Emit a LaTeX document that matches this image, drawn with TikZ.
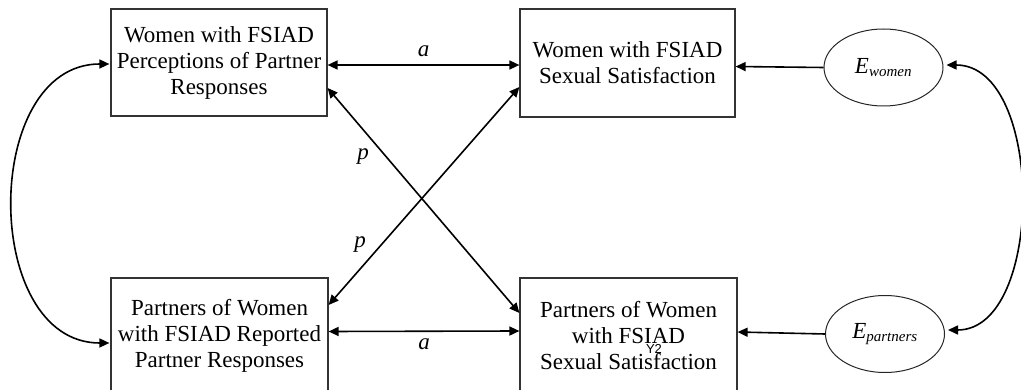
\documentclass[tikz,border=0pt]{standalone}
\usepackage{fontspec}
\setmainfont{Liberation Serif}
\newfontfamily\labelsans{Liberation Sans}
\usetikzlibrary{arrows.meta,shapes.geometric}
\begin{document}
\begin{tikzpicture}[x=1pt,y=-1pt,
  varbox/.style={draw=black!80,line width=1.2pt,rectangle,align=center,
    font=\fontsize{23}{26}\selectfont,inner sep=0pt},
  errnode/.style={draw=black!85,line width=1pt,ellipse,minimum width=119pt,minimum height=77pt,
    inner sep=0pt,font=\fontsize{23}{26}\selectfont\itshape},
  tip/.style={Triangle[length=10pt,width=9pt]},
  biarrow/.style={line width=1.6pt,{Triangle[length=10pt,width=9pt]}-{Triangle[length=10pt,width=9pt]}},
  onearrow/.style={line width=1.6pt,-{Triangle[length=10pt,width=9pt]}},
  pathlabel/.style={font=\fontsize{23}{26}\selectfont\itshape}]
\useasboundingbox (0,0) rectangle (1021,390);
\clip (0,0) rectangle (1021,390);

\node[varbox,minimum width=216pt,minimum height=107pt] (tl) at (219,62.5)
  {Women with FSIAD\\Perceptions of Partner\\Responses};
\node[varbox,minimum width=215pt,minimum height=108pt] (tr) at (627.5,63)
  {Women with FSIAD\\Sexual Satisfaction};
\node[varbox,minimum width=217pt,minimum height=116pt] (bl) at (219.5,336)
  {Partners of Women\\with FSIAD Reported\\Partner Responses};
\node[varbox,minimum width=217pt,minimum height=116pt] (br) at (628.5,336)
  {Partners of Women\\with FSIAD\\Sexual Satisfaction};
\node[font=\labelsans\fontsize{13}{13}\selectfont] (y2) at (654,349) {Y2};

\node[errnode] (ew) at (883.5,67.5) {E\textsubscript{\fontsize{15}{15}\selectfont women}};
\node[errnode] (ep) at (885,334) {E\textsubscript{\fontsize{15}{15}\selectfont partners}};

% actor effects
\draw[biarrow] ([yshift=-2.5pt]tl.east) -- ([yshift=-2pt]tr.west)
  node[pathlabel,midway,above=4pt] (a1) {a};
\draw[biarrow] ([yshift=4.5pt]bl.east) -- ([yshift=5pt]br.west)
  node[pathlabel,midway,below=3pt] (a2) {a};

% partner effects
\draw[biarrow] ([yshift=-25.5pt]tl.east) -- ([yshift=23pt]br.west);
\draw[biarrow] ([yshift=31pt]bl.east) -- ([yshift=-24pt]tr.west);
\node[pathlabel] (p1) at (363,157) {p};
\node[pathlabel] (p2) at (360,245) {p};

% error terms
\draw[onearrow] (ew.west) -- ([yshift=-3.5pt]tr.east);
\draw[onearrow] (ep.west) -- ([yshift=4pt]br.east);

% covariances
\draw[biarrow] ([xshift=-1pt,yshift=-1.5pt]tl.west) .. controls (-19,64) and (-19,343) .. ([xshift=-1pt,yshift=-7pt]bl.west);
\draw[biarrow] ([xshift=3pt,yshift=2.5pt]ew.east) .. controls (1045,65) and (1045,330) .. ([xshift=3pt,yshift=4pt]ep.east);
\end{tikzpicture}
\end{document}
